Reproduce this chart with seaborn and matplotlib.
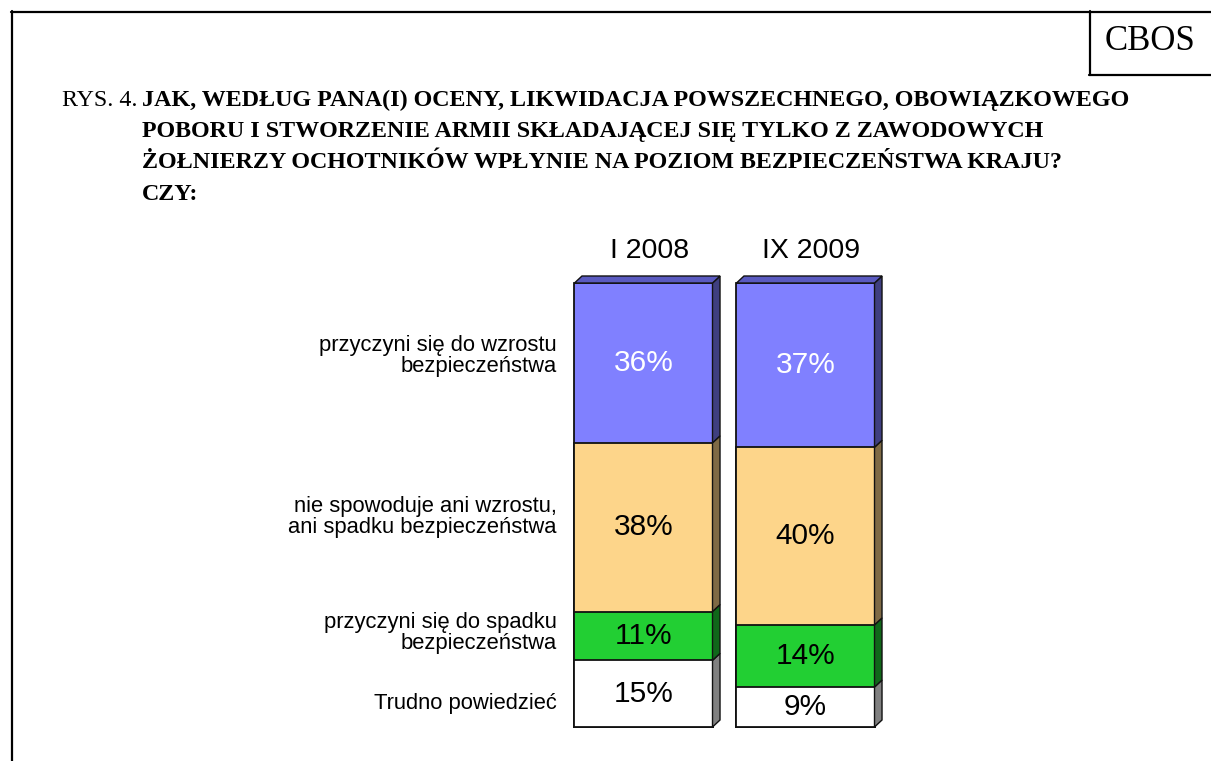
import numpy as np
import pandas as pd
import matplotlib
matplotlib.use("Agg")
import matplotlib.pyplot as plt
from matplotlib.patches import Polygon
from matplotlib.lines import Line2D
import seaborn as sns

# ---- data ----
periods = ["I 2008", "IX 2009"]
categories = [
    "przyczyni się do wzrostu\nbezpieczeństwa",
    "nie spowoduje ani wzrostu,\nani spadku bezpieczeństwa",
    "przyczyni się do spadku\nbezpieczeństwa",
    "Trudno powiedzieć",
]
# values listed top segment -> bottom segment
increase = [36, 37]
neutral = [38, 40]
decrease = [11, 14]
hard_to_say = [15, 9]

title_prefix = "RYS. 4."
title_lines = [
    "JAK, WEDŁUG PANA(I) OCENY, LIKWIDACJA POWSZECHNEGO, OBOWIĄZKOWEGO",
    "POBORU I STWORZENIE ARMII SKŁADAJĄCEJ SIĘ TYLKO Z ZAWODOWYCH",
    "ŻOŁNIERZY OCHOTNIKÓW WPŁYNIE NA POZIOM BEZPIECZEŃSTWA KRAJU?",
    "CZY:",
]
brand = "CBOS"

# ---- styling ----
front_colors = ["#8080FF", "#FDD58A", "#22CF33", "#FFFFFF"]
side_colors = ["#3F3F80", "#7F6A45", "#10671A", "#808080"]
top_color = "#5A5AC0"
text_colors = ["white", "black", "black", "black"]

sns.set_theme(style="white")
plt.rcParams["font.family"] = ["Liberation Sans", "DejaVu Sans"]
plt.rcParams["text.color"] = "black"

W, H = 1211, 761
fig = plt.figure(figsize=(W / 100, H / 100), dpi=100)
fig.patch.set_facecolor("white")

ax_left_px, ax_w_px = 562.5, 324.0
ax_bottom_px, ax_h_px = 34.0, 444.0
ax = fig.add_axes([ax_left_px / W, ax_bottom_px / H, ax_w_px / W, ax_h_px / H])

series = [increase, neutral, decrease, hard_to_say]  # top -> bottom
n = len(series)
bottom_up = series[::-1]
cum = np.cumsum(np.array(bottom_up), axis=0)
bar_width = 0.852
edge = "#111111"
for k in range(n - 1, -1, -1):
    df = pd.DataFrame({"period": periods, "cum": cum[k]})
    sidx = n - 1 - k
    sns.barplot(data=df, x="period", y="cum", order=periods, color=front_colors[sidx],
                saturation=1, width=bar_width, edgecolor=edge, linewidth=1.3,
                ax=ax, zorder=2)

for p in ax.patches:
    p.set_clip_on(False)

ax.set_xlim(-0.5, 1.5)
ax.set_ylim(0, 100)
ax.axis("off")

dx = 7.5 / ax_w_px * 2.0
dy = 7.0 / ax_h_px * 100.0

first_patches = ax.patches[:len(periods)]
for i, p in enumerate(first_patches):
    x0 = p.get_x()
    x1 = x0 + p.get_width()
    xc = x0 + p.get_width() / 2
    for k in range(n):
        sidx = n - 1 - k
        y0 = 0 if k == 0 else cum[k - 1][i]
        y1 = cum[k][i]
        side = Polygon([(x1, y0), (x1 + dx, y0 + dy), (x1 + dx, y1 + dy), (x1, y1)],
                       closed=True, facecolor=side_colors[sidx], edgecolor=edge,
                       linewidth=1.0, zorder=3, clip_on=False)
        ax.add_patch(side)
        val = bottom_up[k][i]
        ax.text(xc, (y0 + y1) / 2, f"{val}%", ha="center", va="center",
                fontsize=21.5, color=text_colors[sidx], zorder=5)
    ytop = cum[-1][i]
    top = Polygon([(x0, ytop), (x0 + dx, ytop + dy), (x1 + dx, ytop + dy), (x1, ytop)],
                  closed=True, facecolor=top_color, edgecolor=edge,
                  linewidth=1.0, zorder=3, clip_on=False)
    ax.add_patch(top)
    ax.text(xc + 0.035, 107.2, periods[i], ha="center", va="center",
            fontsize=20.5, color="black", clip_on=False)

# category labels (left)
label_y_px = [356, 517, 633, 704]
for lab, ypx in zip(categories, label_y_px):
    fig.text(557 / W, 1 - ypx / H, lab, ha="right", va="center",
             fontsize=15.8, linespacing=1.05, color="black", multialignment="right")

# title
serif = ["Liberation Serif", "DejaVu Serif"]
fig.text(62 / W, 1 - 100 / H, title_prefix, ha="left", va="center",
         fontsize=17.3, family=serif, color="black")
for ln, ypx in zip(title_lines, [100, 131, 163, 195]):
    fig.text(142 / W, 1 - ypx / H, ln, ha="left", va="center",
             fontsize=17.3, family=serif, fontweight="bold", color="black")

# frame and brand box
lw = 1.6
fig.add_artist(Line2D([11 / W, 1], [1 - 11.5 / H, 1 - 11.5 / H], color="black", lw=lw))
fig.add_artist(Line2D([11.5 / W, 11.5 / W], [0, 1 - 11 / H], color="black", lw=lw))
fig.add_artist(Line2D([1089.5 / W, 1089.5 / W], [1 - 11 / H, 1 - 75 / H], color="black", lw=lw))
fig.add_artist(Line2D([1089 / W, 1], [1 - 75 / H, 1 - 75 / H], color="black", lw=lw))
fig.text(1150 / W, 1 - 42 / H, brand, ha="center", va="center", fontsize=25,
         family=serif, color="black")

fig.savefig("out.png", dpi=100, facecolor="white")
